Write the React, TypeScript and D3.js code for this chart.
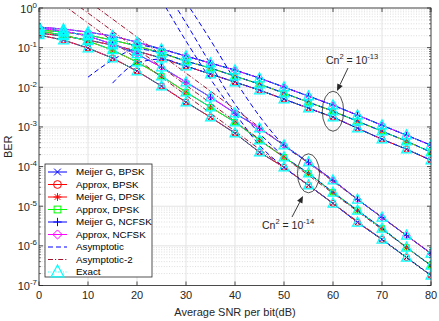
import React from "react";
import * as d3 from "d3";

const W = 439;
const H = 321;
const PLOT = { left: 39, right: 431, top: 8, bottom: 285.5 };
const FONT = "'Liberation Sans', Arial, Helvetica, sans-serif";
const AX = "#262626";

const snr = [0, 5, 10, 15, 20, 25, 30, 35, 40, 45, 50, 55, 60, 65, 70, 75, 80];

// Cn^2 = 1e-13
const bpsk13 = [0.233, 0.196, 0.155, 0.116, 0.0818, 0.0545, 0.0342, 0.0215, 0.0135, 0.00847, 0.00501, 0.00297, 0.00176, 9.27e-4, 4.89e-4, 2.74e-4, 1.44e-4];
const dpsk13 = [0.278, 0.247, 0.208, 0.155, 0.11, 0.0729, 0.0458, 0.0305, 0.0191, 0.012, 0.00711, 0.00421, 0.00249, 0.00139, 7.8e-4, 4.36e-4, 2.3e-4];
const ncfsk13 = [0.331, 0.294, 0.247, 0.196, 0.138, 0.092, 0.0612, 0.0407, 0.0271, 0.017, 0.0101, 0.00597, 0.00354, 0.00198, 0.0011, 6.18e-4, 3.45e-4];

// Cn^2 = 1e-14
const bpsk14 = [0.208, 0.155, 0.0975, 0.0545, 0.0256, 0.0107, 0.00421, 0.00176, 6.93e-4, 2.3e-4, 9.59e-5, 3.37e-5, 1.18e-5, 3.91e-6, 1.45e-6, 5.09e-7, 1.79e-7];
const dpsk14 = [0.262, 0.208, 0.147, 0.0869, 0.0432, 0.0191, 0.00754, 0.00315, 0.00132, 4.61e-4, 1.72e-4, 6.76e-5, 2.24e-5, 7.85e-6, 2.75e-6, 9.12e-7, 3.2e-7];
const ncfsk14 = [0.313, 0.262, 0.196, 0.123, 0.0689, 0.0323, 0.0135, 0.00564, 0.00222, 9.27e-4, 3.45e-4, 1.28e-4, 4.5e-5, 1.49e-5, 5.22e-6, 1.83e-6, 6.43e-7];

// Asymptotic (blue dashed), low-SNR parts before they join the curves
const asymSnrB13 = [15, 20, 25];
const asymB13 = [0.0127, 0.0407, 0.0514];
const asymSnrD13 = [10, 15, 20];
const asymD13 = [0.018, 0.0485, 0.092];
const asymSnrN13 = [20];
const asymN13 = [0.12];
const asymSnrB14 = [25, 30, 35, 40, 45];
const asymB14 = [1.59, 0.147, 0.0161, 0.00222, 3.45e-4];
const asymSnrD14 = [27.5, 30, 35, 40, 45, 50];
const asymD14 = [1.31, 0.418, 0.0385, 0.00375, 6.93e-4, 1.82e-4];
const asymSnrN14 = [30, 35, 40, 45];
const asymN14 = [1.42, 0.155, 0.0151, 0.00187];

// Asymptotic-2 (dash-dot), straight power laws
const asym2Snr = [5, 80];
const asym2Bpsk = [1.19, 1.79e-7];
const asym2Dpsk = [2.13, 3.2e-7];
const asym2Ncfsk = [4.28, 6.43e-7];

const xTicks = [0, 10, 20, 30, 40, 50, 60, 70, 80];
const yExps = [0, -1, -2, -3, -4, -5, -6, -7];

const legendLabels = [
  "Meijer G, BPSK",
  "Approx, BPSK",
  "Meijer G, DPSK",
  "Approx, DPSK",
  "Meijer G, NCFSK",
  "Approx, NCFSK",
  "Asymptotic",
  "Asymptotic-2",
  "Exact",
];

const x = d3.scaleLinear().domain([0, 80]).range([PLOT.left, PLOT.right]);
const y = d3.scaleLog().domain([1e-7, 1]).range([PLOT.bottom, PLOT.top]);

type Pt = [number, number];
const pts = (xs: number[], vs: number[]): Pt[] => xs.map((s, i) => [s, vs[i]]);
const joined = (xs: number[], vs: number[], curve: number[], from: number): Pt[] =>
  pts(xs, vs).concat(pts(snr, curve).filter((p) => p[0] >= from));

const line = d3
  .line<Pt>()
  .x((d) => x(d[0]))
  .y((d) => y(d[1]));
const smooth = d3
  .line<Pt>()
  .x((d) => x(d[0]))
  .y((d) => y(d[1]))
  .curve(d3.curveMonotoneX);

const Marker = ({ kind, cx, cy, big }: { kind: string; cx: number; cy: number; big?: boolean }) => {
  const s = big ? 1.3 : 1;
  if (kind === "x") {
    const r = 2.6 * s;
    return (
      <path d={`M${cx - r},${cy - r}L${cx + r},${cy + r}M${cx - r},${cy + r}L${cx + r},${cy - r}`} stroke="#0000ff" strokeWidth={1} fill="none" />
    );
  }
  if (kind === "o") return <circle cx={cx} cy={cy} r={3 * s} stroke="#ff0000" fill="none" strokeWidth={1} />;
  if (kind === "*") {
    const r = 3 * s;
    const q = 2.2 * s;
    return (
      <path
        d={`M${cx - r},${cy}L${cx + r},${cy}M${cx},${cy - r}L${cx},${cy + r}M${cx - q},${cy - q}L${cx + q},${cy + q}M${cx - q},${cy + q}L${cx + q},${cy - q}`}
        stroke="#ff0000"
        strokeWidth={1}
        fill="none"
      />
    );
  }
  if (kind === "s") {
    const r = 2.6 * s;
    return <rect x={cx - r} y={cy - r} width={2 * r} height={2 * r} stroke="#00ff00" fill="none" strokeWidth={1} />;
  }
  if (kind === "+") {
    const r = 3.2 * s;
    return <path d={`M${cx - r},${cy}L${cx + r},${cy}M${cx},${cy - r}L${cx},${cy + r}`} stroke="#0000ff" strokeWidth={1} fill="none" />;
  }
  if (kind === "d") {
    const r = 3.5 * s;
    return <path d={`M${cx},${cy - r}L${cx + r},${cy}L${cx},${cy + r}L${cx - r},${cy}Z`} stroke="#ff00ff" strokeWidth={1} fill="none" />;
  }
  // triangle (Exact)
  const r = 4.9 * s;
  return <path d={`M${cx},${cy - r * 1.1}L${cx + r},${cy + r * 0.75}L${cx - r},${cy + r * 0.75}Z`} stroke="#00ffff" strokeWidth={1.25} fill="none" />;
};

const series = [
  { label: 0, color: "#0000ff", marker: "x", data: [bpsk13, bpsk14] },
  { label: 1, color: "#ff0000", marker: "o", data: [bpsk13, bpsk14] },
  { label: 2, color: "#ff0000", marker: "*", data: [dpsk13, dpsk14] },
  { label: 3, color: "#00ff00", marker: "s", data: [dpsk13, dpsk14] },
  { label: 4, color: "#0000ff", marker: "+", data: [ncfsk13, ncfsk14] },
  { label: 5, color: "#ff00ff", marker: "d", data: [ncfsk13, ncfsk14] },
];

const asymLines: Pt[][] = [
  joined(asymSnrB13, asymB13, bpsk13, 30),
  joined(asymSnrD13, asymD13, dpsk13, 25),
  joined(asymSnrN13, asymN13, ncfsk13, 25),
  joined(asymSnrB14, asymB14, bpsk14, 50),
  joined(asymSnrD14, asymD14, dpsk14, 55),
  joined(asymSnrN14, asymN14, ncfsk14, 50),
];
const asym2Lines: Pt[][] = [pts(asym2Snr, asym2Bpsk), pts(asym2Snr, asym2Dpsk), pts(asym2Snr, asym2Ncfsk)];
const exactCurves = [bpsk13, dpsk13, ncfsk13, bpsk14, dpsk14, ncfsk14];

const Sup = ({ base, exp, fs }: { base: string; exp: string; fs: number }) => (
  <>
    <tspan>{base}</tspan>
    <tspan fontSize={fs * 0.72} dy={-fs * 0.45}>
      {exp}
    </tspan>
  </>
);

const Arrow = ({ x1, y1, x2, y2 }: { x1: number; y1: number; x2: number; y2: number }) => {
  const a = Math.atan2(y2 - y1, x2 - x1);
  const L = 7;
  const w = 3;
  const bx = x2 - L * Math.cos(a);
  const by = y2 - L * Math.sin(a);
  const p1 = [bx + w * Math.sin(a), by - w * Math.cos(a)];
  const p2 = [bx - w * Math.sin(a), by + w * Math.cos(a)];
  return (
    <g>
      <line x1={x1} y1={y1} x2={bx} y2={by} stroke={AX} strokeWidth={0.9} />
      <path d={`M${x2},${y2}L${p1[0]},${p1[1]}L${p2[0]},${p2[1]}Z`} fill={AX} />
    </g>
  );
};

const CnLabel = ({ tx, ty, exp }: { tx: number; ty: number; exp: string }) => (
  <text x={tx} y={ty} fontSize={10.5} fill={AX}>
    <Sup base="Cn" exp="2" fs={10.5} />
    <tspan dy={10.5 * 0.45}> = 10</tspan>
    <tspan fontSize={10.5 * 0.72} dy={-10.5 * 0.45}>
      {exp}
    </tspan>
  </text>
);

export default function App() {
  const minor: number[] = [];
  for (let e = -7; e < 0; e++) for (let m = 2; m <= 9; m++) minor.push(m * Math.pow(10, e));

  const legTop = 164;
  const legRow = 12.5;

  return (
    <svg width={W} height={H} style={{ position: "absolute", left: 0, top: 0, background: "#fff" }} fontFamily={FONT}>
      <defs>
        <clipPath id="plotClip">
          <rect x={PLOT.left} y={PLOT.top} width={PLOT.right - PLOT.left} height={PLOT.bottom - PLOT.top} />
        </clipPath>
      </defs>
      <rect x={0} y={0} width={W} height={H} fill="#fff" />

      {/* grid */}
      <g>
        {minor.map((v, i) => (
          <line key={"mg" + i} x1={PLOT.left} x2={PLOT.right} y1={y(v)} y2={y(v)} stroke="#cfcfcf" strokeWidth={0.7} strokeDasharray="1 1.6" />
        ))}
        {yExps.map((e) => (
          <line key={"yg" + e} x1={PLOT.left} x2={PLOT.right} y1={y(Math.pow(10, e))} y2={y(Math.pow(10, e))} stroke="#e3e3e3" strokeWidth={1} />
        ))}
        {xTicks.map((t) => (
          <line key={"xg" + t} x1={x(t)} x2={x(t)} y1={PLOT.top} y2={PLOT.bottom} stroke="#e3e3e3" strokeWidth={1} />
        ))}
      </g>

      {/* curves */}
      <g clipPath="url(#plotClip)">
        {series.map((s) =>
          s.data.map((vals, gi) => (
            <g key={`s${s.label}-${gi}`}>
              <path d={line(pts(snr, vals)) || ""} stroke={s.color} strokeWidth={1} fill="none" />
              {vals.map((v, i) => (
                <Marker key={i} kind={s.marker} cx={x(snr[i])} cy={y(v)} />
              ))}
            </g>
          ))
        )}
        {asymLines.map((p, i) => (
          <path key={"a" + i} d={smooth(p) || ""} stroke="#0000ff" strokeWidth={1} strokeDasharray="5 3" fill="none" />
        ))}
        {asym2Lines.map((p, i) => (
          <path key={"b" + i} d={line(p) || ""} stroke="#a2142f" strokeWidth={1} strokeDasharray="5 2 1.2 2" fill="none" />
        ))}
        {exactCurves.map((vals, gi) => (
          <g key={"e" + gi}>
            <path d={line(pts(snr, vals)) || ""} stroke="#00ffff" strokeWidth={0.8} strokeDasharray="1 1.5" fill="none" />
            {vals.map((v, i) => (
              <Marker key={i} kind="^" cx={x(snr[i])} cy={y(v)} />
            ))}
          </g>
        ))}
      </g>

      {/* axes box and ticks */}
      <rect x={PLOT.left} y={PLOT.top} width={PLOT.right - PLOT.left} height={PLOT.bottom - PLOT.top} fill="none" stroke={AX} strokeWidth={0.8} />
      {xTicks.map((t) => (
        <g key={"xt" + t}>
          <line x1={x(t)} x2={x(t)} y1={PLOT.bottom} y2={PLOT.bottom - 4} stroke={AX} strokeWidth={0.8} />
          <line x1={x(t)} x2={x(t)} y1={PLOT.top} y2={PLOT.top + 4} stroke={AX} strokeWidth={0.8} />
          <text x={x(t)} y={299} textAnchor="middle" fontSize={11} fill={AX}>
            {t}
          </text>
        </g>
      ))}
      {yExps.map((e) => (
        <g key={"yt" + e}>
          <line x1={PLOT.left} x2={PLOT.left + 4} y1={y(Math.pow(10, e))} y2={y(Math.pow(10, e))} stroke={AX} strokeWidth={0.8} />
          <line x1={PLOT.right} x2={PLOT.right - 4} y1={y(Math.pow(10, e))} y2={y(Math.pow(10, e))} stroke={AX} strokeWidth={0.8} />
          <text x={37} y={y(Math.pow(10, e)) + 4.5} textAnchor="end" fontSize={11} fill={AX}>
            <Sup base="10" exp={String(e)} fs={11} />
          </text>
        </g>
      ))}
      {minor.map((v, i) => (
        <g key={"mt" + i}>
          <line x1={PLOT.left} x2={PLOT.left + 2} y1={y(v)} y2={y(v)} stroke={AX} strokeWidth={0.6} />
          <line x1={PLOT.right} x2={PLOT.right - 2} y1={y(v)} y2={y(v)} stroke={AX} strokeWidth={0.6} />
        </g>
      ))}

      <text x={(PLOT.left + PLOT.right) / 2} y={316} textAnchor="middle" fontSize={11} fill={AX}>
        Average SNR per bit(dB)
      </text>
      <text transform={`translate(12,${(PLOT.top + PLOT.bottom) / 2}) rotate(-90)`} textAnchor="middle" fontSize={11} fill={AX}>
        BER
      </text>

      {/* annotations */}
      <ellipse cx={x(60)} cy={y(dpsk13[12])} rx={10.7} ry={20} fill="none" stroke={AX} strokeWidth={0.8} />
      <ellipse cx={x(55)} cy={y(dpsk14[11])} rx={11} ry={19.5} fill="none" stroke={AX} strokeWidth={0.8} />
      <Arrow x1={348} y1={68} x2={337} y2={91} />
      <Arrow x1={292} y1={217} x2={303} y2={196} />
      <CnLabel tx={326} ty={64} exp="-13" />
      <CnLabel tx={262} ty={229} exp="-14" />

      {/* legend */}
      <g>
        <rect x={45} y={legTop} width={107} height={113} fill="#fff" stroke={AX} strokeWidth={0.8} />
        {legendLabels.map((lab, i) => {
          const cy = legTop + 8 + i * legRow;
          const s = series[i];
          return (
            <g key={"l" + i}>
              {s && <line x1={48} x2={67} y1={cy} y2={cy} stroke={s.color} strokeWidth={1} />}
              {s && <Marker kind={s.marker} cx={57.5} cy={cy} big />}
              {i === 6 && <line x1={48} x2={67} y1={cy} y2={cy} stroke="#0000ff" strokeWidth={1} strokeDasharray="5 3" />}
              {i === 7 && <line x1={48} x2={67} y1={cy} y2={cy} stroke="#a2142f" strokeWidth={1} strokeDasharray="5 2 1.2 2" />}
              {i === 8 && (
                <>
                  <line x1={48} x2={67} y1={cy} y2={cy} stroke="#00ffff" strokeWidth={0.8} strokeDasharray="1 1.5" />
                  <Marker kind="^" cx={57.5} cy={cy} big />
                </>
              )}
              <text x={76} y={cy + 3.4} fontSize={9.8} fill="#000">
                {lab}
              </text>
            </g>
          );
        })}
      </g>
    </svg>
  );
}
